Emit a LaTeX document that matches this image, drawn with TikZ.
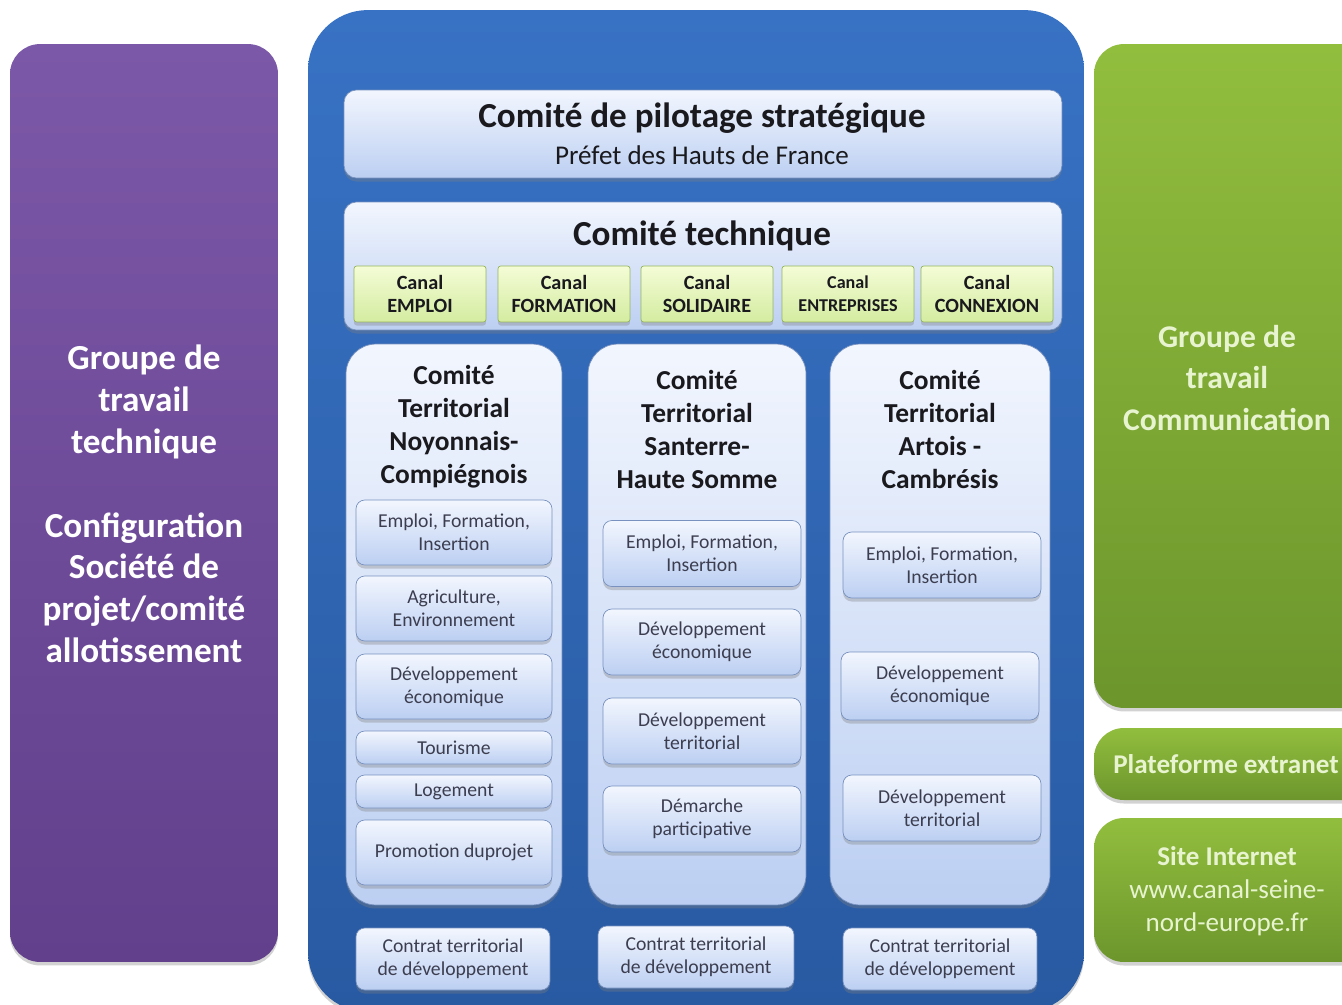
\documentclass[tikz,border=0pt]{standalone}
\usepackage{fontspec}
\setmainfont{Carlito}
\usetikzlibrary{shadows}
\definecolor{VioletHaut}{RGB}{124,88,168}
\definecolor{VioletBas}{RGB}{98,64,140}
\definecolor{BleuHaut}{RGB}{56,114,196}
\definecolor{BleuBas}{RGB}{40,90,162}
\definecolor{CielHaut}{RGB}{242,246,254}
\definecolor{CielBas}{RGB}{188,207,242}
\definecolor{CielBord}{RGB}{120,145,190}
\definecolor{VertHaut}{RGB}{146,190,62}
\definecolor{VertBas}{RGB}{108,150,44}
\definecolor{VertClair}{RGB}{232,244,208}
\definecolor{CanalHaut}{RGB}{244,252,214}
\definecolor{CanalBas}{RGB}{212,236,160}
\definecolor{CanalBord}{RGB}{150,182,92}
\definecolor{Encre}{RGB}{25,25,30}
\definecolor{EncreGris}{RGB}{60,62,80}

\begin{document}
\begin{tikzpicture}[x=0.02cm,y=-0.02cm,
    every node/.style={inner sep=0pt,align=center},
    ombre/.style={drop shadow={shadow xshift=0pt,shadow yshift=-2pt,opacity=0.35}},
    groupeviolet/.style={rounded corners=17pt,top color=VioletHaut,bottom color=VioletBas,ombre},
    groupevert/.style={rounded corners=17pt,top color=VertHaut,bottom color=VertBas,ombre},
    cadrebleu/.style={rounded corners=34pt,top color=BleuHaut,bottom color=BleuBas,ombre},
    comite/.style={rounded corners=7pt,top color=CielHaut,bottom color=CielBas,draw=CielBord,line width=0.4pt,ombre},
    territoire/.style={rounded corners=17pt,top color=CielHaut,bottom color=CielBas,draw=CielBord,line width=0.4pt,ombre},
    theme/.style={rounded corners=5pt,top color=CielHaut,bottom color=CielBas,draw=CielBord,line width=0.4pt,ombre,
      text=EncreGris,font=\fontsize{11.2}{13}\selectfont},
    canal/.style={rounded corners=1.5pt,top color=CanalHaut,bottom color=CanalBas,draw=CanalBord,line width=0.4pt,ombre,
      minimum width=2.64cm,minimum height=1.12cm,text=Encre,font=\bfseries\fontsize{11.5}{13}\selectfont},
    titreblanc/.style={text=white,font=\bfseries\fontsize{20}{23.8}\selectfont},
    titrevert/.style={text=VertClair,font=\bfseries\fontsize{18}{23.5}\selectfont},
    titreterr/.style={text=Encre,font=\bfseries\fontsize{15.6}{18.7}\selectfont}]
  \clip (0,0) rectangle (1342,1004);
  \fill[white] (0,0) rectangle (1342,1004);

  % groupes lateraux
  \node[groupeviolet,minimum width=5.36cm,minimum height=18.36cm] (gtech) at (144,503) {};
  \node[titreblanc] (gtechtxt) at (144,504)
    {Groupe de\\travail\\technique\\~\\Configuration\\Société de\\projet/comité\\allotissement};
  \node[groupevert,minimum width=5.56cm,minimum height=13.28cm] (gcom) at (1233,376) {};
  \node[titrevert] (gcomtxt) at (1227,378) {Groupe de\\travail\\Communication};
  \node[groupevert,minimum width=5.56cm,minimum height=1.44cm] (extranet) at (1233,764) {};
  \node[text=VertClair,font=\bfseries\fontsize{15.4}{18}\selectfont] (extranettxt) at (1226,764) {Plateforme extranet};
  \node[groupevert,minimum width=5.56cm,minimum height=2.88cm] (site) at (1233,890) {};
  \node[text=VertClair,font=\fontsize{15.4}{18.7}\selectfont] (sitetxt) at (1227,891)
    {\textbf{Site Internet}\\www.canal-seine-\\nord-europe.fr};

  % cadre central
  \node[cadrebleu,minimum width=15.52cm,minimum height=20.04cm] (cadre) at (696,511) {};
  \node[comite,minimum width=14.36cm,minimum height=1.76cm] (copil) at (703,134) {};
  \node[text=Encre,font=\bfseries\fontsize{20}{24}\selectfont] (copiltxt) at (702,118) {Comité de pilotage stratégique};
  \node[text=Encre,font=\fontsize{15.4}{18}\selectfont] (prefet) at (702,155) {Préfet des Hauts de France};
  \node[comite,minimum width=14.36cm,minimum height=2.56cm] (cotech) at (703,266) {};
  \node[text=Encre,font=\bfseries\fontsize{20}{24}\selectfont] (cotechtxt) at (702,236) {Comité technique};

  % canaux
  \node[canal] (emploi) at (420,294) {Canal\\EMPLOI};
  \node[canal] (formation) at (564,294) {Canal\\FORMATION};
  \node[canal] (solidaire) at (707,294) {Canal\\SOLIDAIRE};
  \node[canal,font=\bfseries\fontsize{10.3}{13}\selectfont] (entreprises) at (848,294) {Canal\\ENTREPRISES};
  \node[canal] (connexion) at (987,294) {Canal\\CONNEXION};

  % comites territoriaux
  \node[territoire,minimum width=4.32cm,minimum height=11.22cm] (ctnoyon) at (454,624.5) {};
  \node[territoire,minimum width=4.36cm,minimum height=11.22cm] (ctsomme) at (697,624.5) {};
  \node[territoire,minimum width=4.40cm,minimum height=11.22cm] (ctartois) at (940,624.5) {};
  \node[titreterr] (ctnoyontxt) at (454,426.5) {Comité\\Territorial\\Noyonnais-\\Compiégnois};
  \node[titreterr] (ctsommetxt) at (697,429.5) {Comité\\Territorial\\Santerre-\\Haute Somme};
  \node[titreterr] (ctartoistxt) at (940,429.5) {Comité\\Territorial\\Artois -\\Cambrésis};

  \node[theme,minimum width=3.92cm,minimum height=1.3cm] (noyon1) at (454,532.5) {Emploi, Formation,\\Insertion};
  \node[theme,minimum width=3.92cm,minimum height=1.3cm] (noyon2) at (454,608.5) {Agriculture,\\Environnement};
  \node[theme,minimum width=3.92cm,minimum height=1.3cm] (noyon3) at (454,686.5) {Développement\\économique};
  \node[theme,minimum width=3.92cm,minimum height=0.66cm] (noyon4) at (454,747.5) {Tourisme};
  \node[theme,minimum width=3.92cm,minimum height=0.66cm] (noyon5) at (454,791.5) {Logement};
  \node[theme,minimum width=3.92cm,minimum height=1.3cm] (noyon6) at (454,852.5) {Promotion duprojet};

  \node[theme,minimum width=3.96cm,minimum height=1.32cm] (somme1) at (702,553.5) {Emploi, Formation,\\Insertion};
  \node[theme,minimum width=3.96cm,minimum height=1.32cm] (somme2) at (702,642) {Développement\\économique};
  \node[theme,minimum width=3.96cm,minimum height=1.32cm] (somme3) at (702,731) {Développement\\territorial};
  \node[theme,minimum width=3.96cm,minimum height=1.32cm] (somme4) at (702,819) {Démarche\\participative};

  \node[theme,minimum width=3.96cm,minimum height=1.32cm] (artois1) at (942,565) {Emploi, Formation,\\Insertion};
  \node[theme,minimum width=3.96cm,minimum height=1.36cm] (artois2) at (940,686) {Développement\\économique};
  \node[theme,minimum width=3.96cm,minimum height=1.32cm] (artois3) at (942,808) {Développement\\territorial};

  % contrats
  \node[theme,minimum width=3.88cm,minimum height=1.24cm] (contrat1) at (453,959) {Contrat territorial\\de développement};
  \node[theme,minimum width=3.92cm,minimum height=1.24cm] (contrat2) at (696,957) {Contrat territorial\\de développement};
  \node[theme,minimum width=3.88cm,minimum height=1.24cm] (contrat3) at (940,959) {Contrat territorial\\de développement};
\end{tikzpicture}
\end{document}
